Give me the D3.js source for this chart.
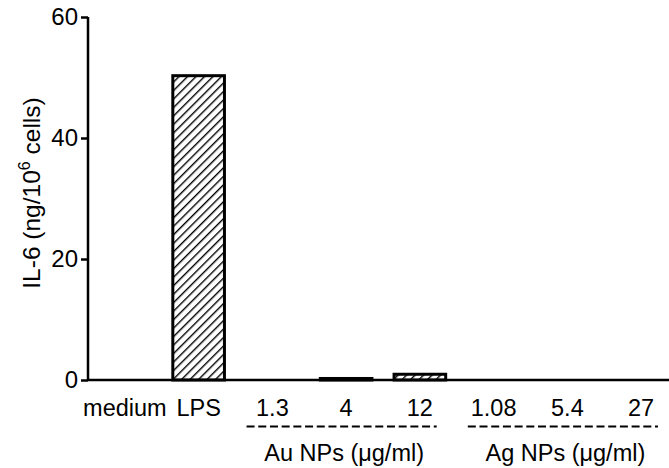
<!DOCTYPE html>
<html>
<head>
<meta charset="utf-8">
<script src="https://cdn.jsdelivr.net/npm/d3@7"></script>
<style>
  body { margin: 0; background: #fff; }
  text { font-family: "Liberation Sans", Arial, sans-serif; fill: #000; }
</style>
</head>
<body>
<svg id="chart" width="669" height="468"></svg>
<script>
// data
const categories = ["medium", "LPS", "1.3", "4", "12", "1.08", "5.4", "27"]
const values     = [0, 50.3, 0, 0.25, 0.95, 0, 0, 0]
const yTicks     = [0, 20, 40, 60]
const groups = [
  { label: "Au NPs (\u03bcg/ml)", from: "1.3",  to: "12" },
  { label: "Ag NPs (\u03bcg/ml)", from: "1.08", to: "27" }
]

const svg = d3.select("#chart")

const x = d3.scaleBand()
  .domain(categories)
  .range([88, 678])
  .paddingInner(0.3)
  .paddingOuter(0.15)

const y = d3.scaleLinear()
  .domain([0, 60])
  .range([380, 17])

// hatch pattern
svg.append("defs").append("pattern")
  .attr("id", "hatch")
  .attr("patternUnits", "userSpaceOnUse")
  .attr("width", 6).attr("height", 6)
  .attr("patternTransform", "rotate(45)")
  .append("line")
  .attr("x1", 0).attr("y1", 0)
  .attr("x2", 0).attr("y2", 6)
  .attr("stroke", "#000")
  .attr("stroke-width", 2.8)

// bars
svg.append("g")
  .selectAll("rect")
  .data(categories.map((c, i) => ({ c, v: values[i] })).filter(d => d.v > 0))
  .enter().append("rect")
  .attr("x", d => x(d.c))
  .attr("width", x.bandwidth())
  .attr("y", d => y(d.v))
  .attr("height", d => y(0) - y(d.v))
  .attr("fill", "url(#hatch)")
  .attr("stroke", "#000")
  .attr("stroke-width", 3)

// y axis
const yAxis = svg.append("g")
  .attr("transform", "translate(88,0)")
  .call(d3.axisLeft(y).tickValues(yTicks).tickSize(7).tickPadding(3))
yAxis.select(".domain").attr("stroke-width", 2.5)
  .attr("d", `M0,${y(60)}V${y(0)}`)
yAxis.selectAll(".tick line").attr("stroke-width", 2.5)
yAxis.selectAll(".tick text")
  .style("font-size", "24px")
  .style("font-family", "Liberation Sans, Arial, sans-serif")

// x axis line
svg.append("line")
  .attr("x1", 88).attr("x2", 669)
  .attr("y1", y(0)).attr("y2", y(0))
  .attr("stroke", "#000")
  .attr("stroke-width", 2.5)

// category labels
svg.append("g")
  .selectAll("text")
  .data(categories)
  .enter().append("text")
  .attr("x", d => x(d) + x.bandwidth() / 2)
  .attr("y", 416)
  .attr("text-anchor", "middle")
  .style("font-size", "23.5px")
  .text(d => d)

// group dashed lines + labels
const grp = svg.append("g")
  .selectAll("g")
  .data(groups)
  .enter().append("g")

grp.append("line")
  .attr("x1", d => x(d.from))
  .attr("x2", d => x(d.to) + x.bandwidth() - 9)
  .attr("y1", 426.5).attr("y2", 426.5)
  .attr("stroke", "#000")
  .attr("stroke-width", 2)
  .attr("stroke-dasharray", "8,3.7")

grp.append("text")
  .attr("x", d => (x(d.from) + x(d.to) + x.bandwidth()) / 2 - 2)
  .attr("y", 461)
  .attr("text-anchor", "middle")
  .style("font-size", "23.5px")
  .text(d => d.label)

// y title
const yt = svg.append("text")
  .attr("transform", "translate(40,193) rotate(-90)")
  .attr("text-anchor", "middle")
  .style("font-size", "24.5px")
yt.append("tspan").text("IL-6 (ng/10")
yt.append("tspan").attr("dy", -10).style("font-size", "16px").text("6")
yt.append("tspan").attr("dy", 10).text(" cells)")
</script>
</body>
</html>
